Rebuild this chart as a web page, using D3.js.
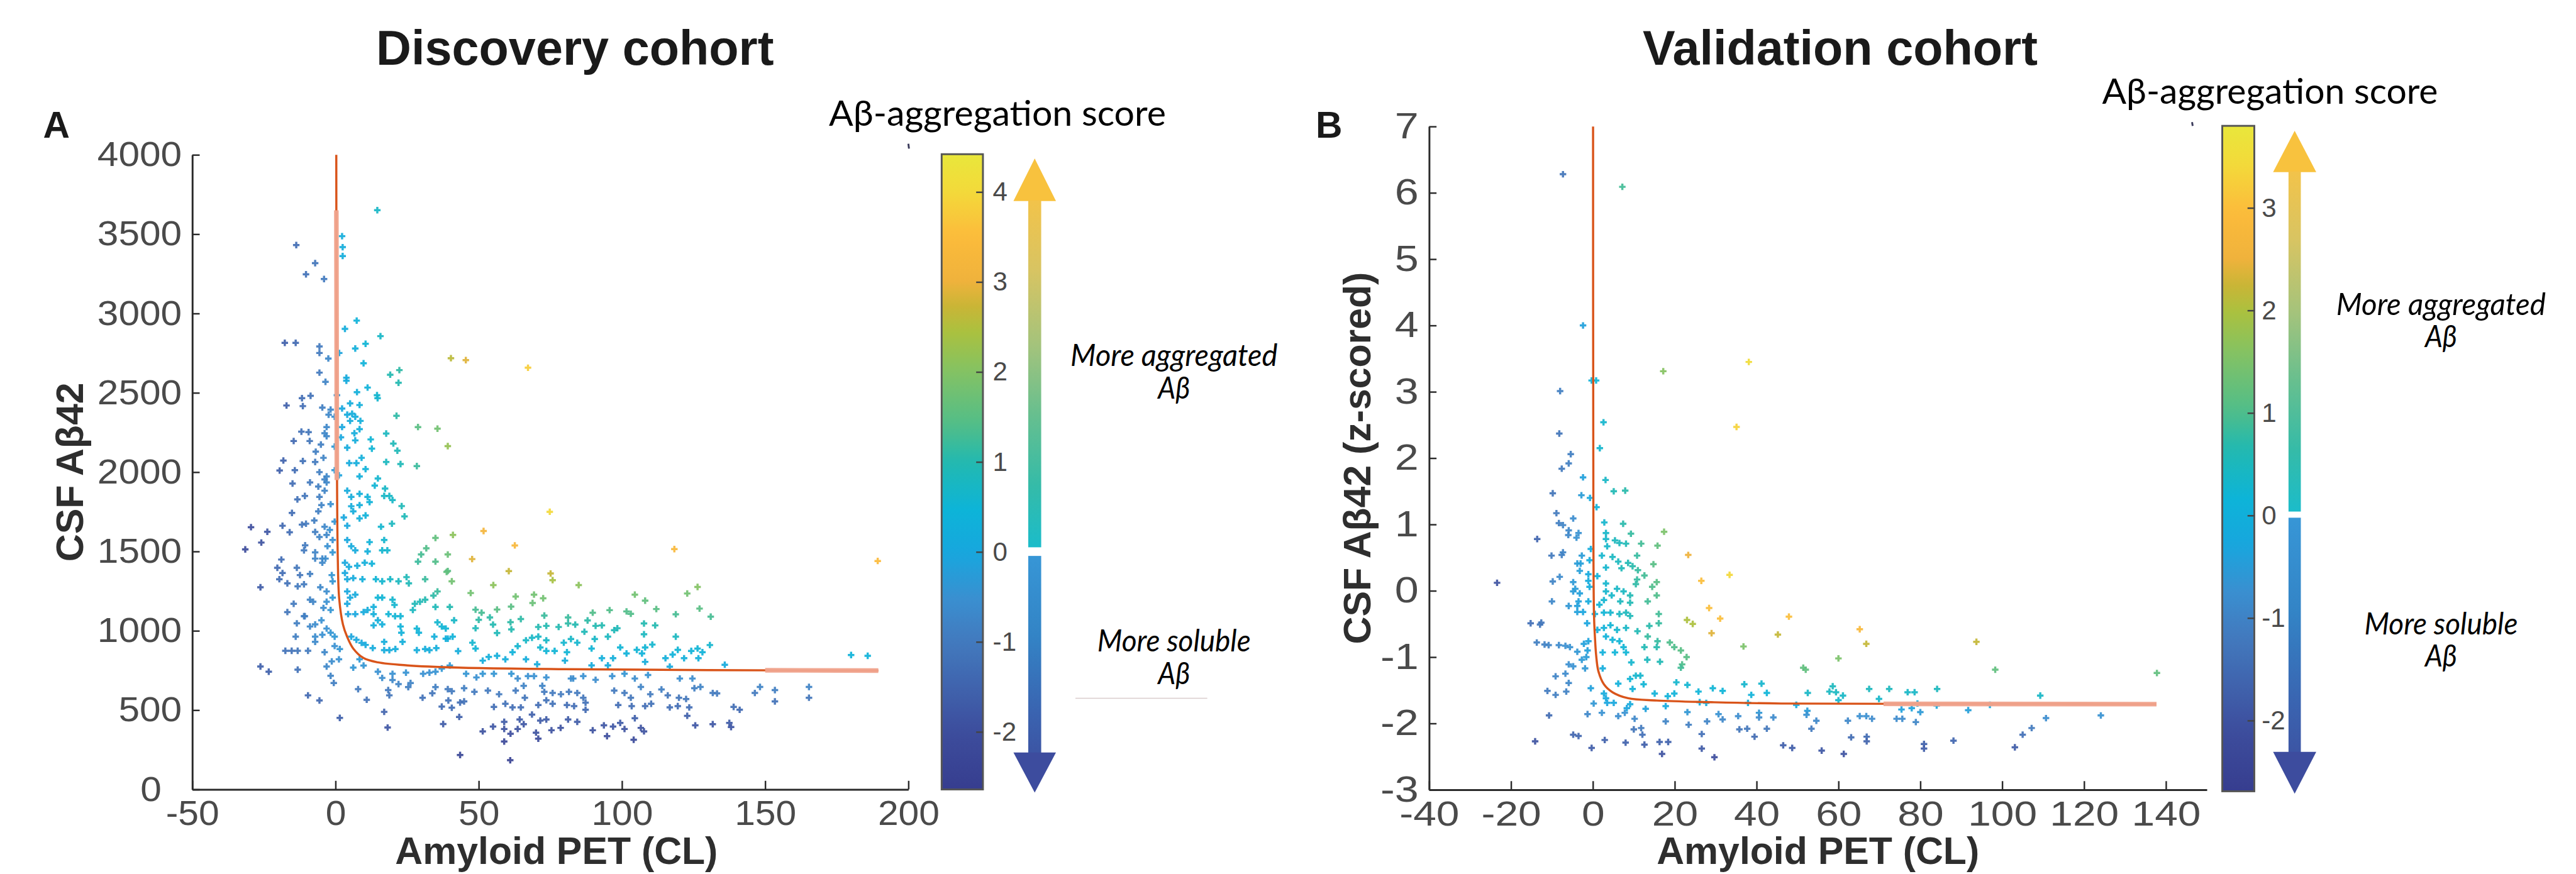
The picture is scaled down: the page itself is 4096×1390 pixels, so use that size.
<!DOCTYPE html>
<meta charset="utf-8">
<style>
body { margin: 0; background: #fff; overflow: hidden; }
.tick text { font-family: "Liberation Sans", Arial, Helvetica, sans-serif; fill: #4a4a4a; }
.axis-title { font-family: "Liberation Sans", Arial, Helvetica, sans-serif; font-weight: bold; fill: #2e2e2e; }
.panel-title { font-family: "Liberation Sans", Arial, Helvetica, sans-serif; font-weight: bold; fill: #1a1a1a; }
.cb-title { font-family: Lato, "Open Sans", sans-serif; fill: #000; }
.cb-note { font-family: Lato, "Open Sans", sans-serif; font-style: italic; fill: #000; }
</style>
<svg width="4096" height="1390" viewBox="0 0 4180 1418"></svg>
<script src="https://d3js.org/d3.v7.min.js"></script>
<script>

// ---- data: [amyloid PET (CL), CSF Abeta42, aggregation score] ----
var discoveryPoints = [
  [14.6,3651,0.7],[-13.7,3431,-1.3],[2.3,3487,0.2],[2.5,3418,0.2],[2.5,3362,0.2],[-7.1,3317,-1.1],[-10.3,3247,-1.2],[-4,3217,-1],
  [7.4,2955,0.4],[3.3,2903,0.2],[15.7,2857,0.7],[-17.7,2815,-1.6],[-13.9,2815,-1.4],[-5.6,2792,-1],[-5.6,2751,-1],[1.3,2751,-0.1],
  [-2.5,2716,-0.7],[6.9,2779,0.3],[10.5,2809,0.5],[9.8,2686,0.4],[40.3,2718,2.6],[45.5,2706,2.9],[67.2,2658,3.8],[19.1,2614,1],
  [22.3,2643,1.1],[22,2563,1],[-5.6,2627,-1],[-3.5,2569,-0.8],[3.8,2595,0.1],[3.8,2576,0.1],[11.2,2533,0.4],[7.5,2504,0.3],
  [14.5,2485,0.6],[14.7,2466,0.6],[0.5,2485,-0.4],[-11.7,2466,-1.3],[-8.7,2481,-1.2],[-17.1,2420,-1.6],[-11.4,2416,-1.3],[-4.6,2407,-0.9],
  [-1.7,2394,-0.7],[-2.4,2362,-0.7],[-0.3,2349,-0.5],[2.3,2401,0],[5.1,2433,0.2],[8.4,2423,0.3],[4.1,2362,0.1],[5.8,2368,0.2],
  [6.9,2349,0.2],[5.1,2323,0.1],[8.7,2323,0.3],[21.3,2355,1.1],[28.8,2284,1.5],[35.6,2274,1.8],[39.2,2164,2.2],[17.7,2243,0.8],
  [2.3,2284,0],[-3.1,2284,-0.7],[-3.8,2245,-0.7],[-3.1,2226,-0.7],[-11.9,2255,-1.2],[-9.4,2252,-1.1],[-14.6,2196,-1.4],[-9,2196,-1.1],
  [-5.1,2174,-0.9],[-0.3,2161,-0.3],[1.9,2219,0],[6.6,2245,0.2],[8.4,2271,0.3],[6.9,2200,0.2],[4.1,2154,0.1],[12.3,2206,0.5],
  [12.7,2148,0.5],[20.2,2180,0.9],[21.6,2135,0.9],[-6.9,2129,-0.9],[-18.2,2073,-1.5],[-11.4,2070,-1.2],[-7.1,2064,-1],[-4.2,2090,-0.8],
  [9.1,2090,0.3],[7.3,2057,0.2],[4.8,2057,0.1],[17.7,2064,0.8],[22.7,2051,0.9],[28.4,2038,1.2],
  [-19.5,2010,-1.6],[-14.2,2012,-1.3],[-5.6,2000,-0.9],[-3.1,1973,-0.7],[-3.1,1935,-0.7],[-0.3,2012,-0.3],[1.2,1980,-0.1],[8.4,1973,0.3],
  [10.5,2019,0.4],[14.8,1960,0.6],[13.7,1915,0.5],[17.3,1896,0.7],[18.8,1850,0.7],[19.9,1824,0.7],[17,1850,0.7],[23.1,1786,0.9],
  [24.1,1721,0.9],[15.9,1656,0.6],[19.7,1675,0.8],[-15,1928,-1.3],[-8.9,1935,-1],[-6,1909,-0.9],[-3.8,1954,-0.8],[-3.8,1883,-0.8],
  [-13.3,1828,-1.2],[-10.7,1850,-1.1],[-5.6,1844,-0.9],[-4.9,1792,-0.8],[-1.7,1798,-0.5],[-6,1753,-0.9],[-15.2,1743,-1.3],[4.1,1883,0.1],
  [5.5,1844,0.2],[8.4,1863,0.3],[11.2,1844,0.4],[11.9,1811,0.4],[5.5,1785,0.2],[8.4,1792,0.3],[10.5,1727,0.4],[8.4,1708,0.3],
  [6.2,1753,0.2],[2.9,1714,0],[4.1,1662,0],[-0.3,1688,-0.4],[-2,1636,-0.5],[-3.8,1656,-0.7],[-7.4,1695,-0.9],[-10.3,1675,-1],
  [-11.7,1669,-1.1],[-18.5,1662,-1.4],[-16,1621,-1.3],[-29.5,1653,-2],[-23.8,1624,-1.8],[-25.9,1556,-1.9],[-31.5,1513,-2.1],[-7.1,1623,-0.9],
  [-5.6,1591,-0.8],[-3.1,1604,-0.7],[-1,1572,-0.5],[-2.8,1533,-0.5],[-10.6,1539,-1],[-11,1507,-1],[-7.1,1494,-0.8],[-4.6,1455,-0.7],
  [-1,1494,-0.4],[4.1,1572,0],[5.5,1533,0.1],[6.9,1507,0.1],[11.9,1559,0.4],[17,1572,0.6],[16.3,1507,0.6],[18.1,1507,0.6],
  [11.2,1500,0.3],[34.9,1585,1.6],[41,1604,2.1],[31.7,1520,1.4],[29.9,1481,1.3],[28.8,1436,1.2],[34.9,1436,1.4],[39.2,1481,1.7],
  [39.2,1377,1.5],[40.6,1312,1.8],[-18.9,1449,-1.3],[-20.3,1397,-1.4],[-18.5,1364,-1.3],[-13.5,1397,-1.1],[-12.4,1351,-1.1],[-8.9,1358,-0.9],
  [-7.1,1455,-0.8],[-4.6,1429,-0.7],[-3.5,1455,-0.6],[-19.6,1325,-1.3],[-16.8,1299,-1.2],[-13.2,1280,-1],[-11,1293,-1],[-26.2,1274,-1.7],
  [-5.3,1274,-0.7],[-3.1,1248,-0.6],[-1,1312,-0.4],[-1.3,1351,-0.4],[3.3,1429,0],[4.7,1403,0.1],[7.6,1410,0.2],[10.2,1429,0.3],
  [12.7,1423,0.4],[3.3,1364,0],[4.1,1325,0.05],[6.2,1332,0.1],[9.4,1325,0.3],[14.1,1325,0.5],[16.3,1312,0.6],[19.1,1325,0.7],
  [22,1312,0.8],[24.8,1338,0.9],[25.6,1299,0.9],[31.3,1325,1.2],[38.8,1371,1.6],[4.1,1248,0],[5.1,1209,0.05],[6.9,1228,0.1],
  [-8.9,1196,-0.8],[-7.8,1183,-0.8],[-14.6,1170,-1],[-16.8,1118,-1.1],[-11,1092,-0.9],[-4.2,1144,-0.6],[-1.7,1131,-0.4],[-3.1,1183,-0.5],
  [-1,1209,-0.3],[4.1,1170,0],[4.4,1105,-0.1],[6.9,1105,0],[9.8,1118,0.1],[11.2,1131,0.2],[13.3,1150,0.3],[13.3,1105,0.3],
  [14.8,1209,0.5],[16.3,1209,0.5],[19.9,1196,0.6],[20.6,1163,0.6],[18.5,1105,0.5],[20.8,1092,0.5],[22.7,1092,0.5],[14.8,1066,0.3],
  [13.3,1034,0.3],[16.3,1040,0.3],[22.7,1027,0.4],[23,988,0.35],[27.7,1170,0.9],[29.5,1183,0.9],[31.3,1196,1],[34.2,1222,1.1],
  [35.6,1248,1.2],[34.9,1150,0.9],[39.9,1150,1],[27,1131,0.8],[28.4,1014,0.5],[29.1,988,0.4],[35.6,1053,0.6],[37.1,1027,0.5],
  [38.5,1014,0.5],[41.4,1066,0.7],[34.5,963,0.3],[39.2,950,0.3],[40.9,963,0.4],[-8.9,1027,-0.7],[-7.1,1040,-0.6],[-4.9,1066,-0.5],
  [-3.1,1014,-0.5],[-1.7,988,-0.4],[-0.3,963,-0.35],[-4.6,975,-0.5],[-7.1,963,-0.6],[-7.1,930,-0.65],[-13.5,1047,-0.9],[-10.7,1092,-0.9],
  [-13.9,963,-0.9],[-17.5,874,-1.2],[-15.3,874,-1.2],[-13.2,874,-1.1],[-9.6,874,-1],[-3.8,865,-0.7],[-0.3,904,-0.5],[1.5,885,-0.4],
  [5.5,963,-0.05],[7.3,943,0],[9.1,924,0.05],[10.5,911,0.1],[13,891,0.15],[17,930,0.25],[17,878,0.15],[18.8,878,0.15],
  [20.9,885,0.2],[23.4,930,0.3],[28.4,878,0.2],[31.3,885,0.2],[32.8,878,0.2],[35.2,891,0.25],[38.5,950,0.3],[42.8,872,0.2],
  [1.2,820,-0.5],[-1.3,807,-0.6],[-3.1,775,-0.7],[-26.2,775,-1.6],[-23.3,742,-1.6],[-13.2,755,-1.2],[6.2,768,-0.4],[8.4,820,-0.3],
  [9.8,781,-0.4],[14.8,742,-0.5],[16.3,703,-0.6],[19.9,729,-0.5],[19.9,690,-0.7],[22,664,-0.8],[24.6,736,-0.45],[25.4,645,-0.9],
  [26.2,671,-0.8],[30.6,729,-0.5],[32.8,736,-0.5],[34.9,742,-0.45],[37.1,762,-0.35],[39.9,781,-0.3],[-1.7,716,-0.8],[-0.6,671,-0.9],
  [7.9,632,-1],[18.4,626,-1],[18.8,593,-1.1],[34.9,645,-0.9],[39.2,632,-1],[40.6,619,-1],[39.4,561,-1.2],[37.1,522,-1.3],
  [40.6,515,-1.3],[43.5,548,-1.25],[-9.6,593,-1.4],[-5.6,561,-1.4],[10.9,565,-1.2],[30.4,578,-1.2],[33.8,606,-1.1],[17,489,-1.5],
  [1.5,451,-1.6],[43.2,457,-1.6],[37.6,412,-1.7],[18.2,390,-1.8],[43.5,217,-2.3],
  [74.8,1750,4],[51.7,1629,3.2],[62.6,1538,3.3],[47.7,1452,2.9],[60.5,1376,2.7],[75.1,1361,2.7],[75.8,1319,2.4],[118.3,1515,3.4],
  [55.1,1288,2.1],[47.2,1238,1.8],[84.9,1288,2.1],[62.9,1216,1.8],[69.3,1228,1.8],[72.5,1205,1.8],[68.8,1175,1.7],[61.3,1152,1.5],
  [56.4,1134,1.5],[48.9,1133,1.3],[51,1114,1.3],[104.5,1228,1.8],[108.1,1190,1.6],[112,1137,1.5],[122.8,1235,1.8],[126.4,1276,2],
  [127.1,1140,1.5],[131,1089,1.3],[118.8,1104,1.3],[95.7,1130,1.4],[101.6,1122,1.4],[103.1,1107,1.4],[89.8,1114,1.4],[72.9,1096,1.2],
  [81.2,1084,1.2],[50,1069,1.1],[53.9,1084,1.1],[55,1039,1],[48.9,1016,0.9],[56.4,986,0.9],[61.1,1054,1.1],[61.4,1009,1],
  [64.7,1074,1.1],[70.8,1024,1],[73.6,1031,1],[77.9,1024,1],[81.2,1046,1.1],[83.7,1039,1],[88,1065,1.1],[90.8,1031,1],
  [93,1034,1],[86.9,994,0.9],[95.1,963,0.8],[97.3,1004,0.9],[98.4,1016,0.9],[107.7,1046,1],[111.6,1034,1],[107.7,978,0.8],
  [118.8,963,0.8],[130.7,910,0.6],[47.8,925,0.6],[48.9,888,0.5],[63.6,903,0.6],[66.5,940,0.7],[68.6,956,0.7],[70.8,963,0.7],
  [71.5,895,0.6],[73.6,940,0.7],[73.6,873,0.5],[76.5,873,0.5],[79.7,925,0.6],[82.2,948,0.7],[84.4,925,0.6],[80.8,865,0.5],
  [89.4,888,0.5],[90.5,948,0.7],[93,827,0.3],[96.9,827,0.3],[99.4,895,0.5],[101.6,857,0.4],[105.2,880,0.5],[107,857,0.4],
  [108.1,895,0.5],[110.6,913,0.6],[108.1,804,0.2],[115.2,827,0.3],[117.7,850,0.4],[119.5,880,0.5],[121.7,827,0.3],[124.2,873,0.4],
  [126.4,888,0.5],[128.1,865,0.4],[126.7,827,0.3],[51.4,812,0.2],[53.5,835,0.3],[56.4,842,0.3],[59.3,820,0.2],[61.8,865,0.4],
  [66.5,820,0.2],[70.4,789,0.1],[80.1,812,0.2],[89.4,782,0.1],[95.1,782,0.1],[116.7,774,0.05],
  [45.6,729,-0.4],[49.2,706,-0.5],[51.4,729,-0.4],[55.3,729,-0.4],[61.4,729,-0.4],[63.6,699,-0.6],[67.2,714,-0.5],[69.3,714,-0.5],
  [73.6,706,-0.5],[83,699,-0.6],[86.5,714,-0.5],[90.8,691,-0.6],[96.6,714,-0.5],[100.9,729,-0.4],[104.5,699,-0.6],[109.1,721,-0.45],
  [120.2,699,-0.6],[124.6,699,-0.6],[44.9,638,-0.9],[48.5,615,-1],[53.2,623,-1],[44.9,555,-1.2],[57.1,600,-1],[59.3,540,-1.2],
  [61.8,517,-1.3],[64.7,517,-1.3],[62.9,623,-1],[65.7,653,-0.8],[66.1,578,-1.1],[55.3,520,-1.3],[72.2,653,-0.8],[72.9,615,-1],
  [75.8,608,-1],[78.7,600,-1],[81.5,615,-1],[84.4,608,-1],[86.5,578,-1.1],[87.3,547,-1.2],[87.3,502,-1.4],[83.3,525,-1.3],
  [80.8,532,-1.3],[75.8,540,-1.2],[70.8,532,-1.3],[73.6,562,-1.2],[82.2,699,-0.6],[97.3,623,-1],[98.7,532,-1.3],[100.9,608,-1],
  [103.1,578,-1.1],[103.4,525,-1.3],[106.6,646,-0.8],[109.9,600,-1],[108.1,525,-1.3],[110.2,540,-1.2],[113.8,630,-0.9],[116,593,-1.1],
  [116.7,517,-1.3],[119.9,578,-1.1],[119.5,525,-1.3],[122.4,570,-1.1],[123.5,517,-1.3],[125.3,638,-0.9],[127.4,646,-0.8],[122.8,464,-1.6],
  [131.7,608,-1],[125.6,404,-1.8],[131.7,411,-1.8],[55,396,-1.8],[51.4,366,-1.9],[58.9,426,-1.7],[58.9,381,-1.9],[61.1,351,-2],
  [58.9,302,-2.2],[63.6,381,-1.9],[65.7,411,-1.8],[64.3,441,-1.7],[68.6,472,-1.6],[70,358,-1.9],[70.8,320,-2.1],[71.5,434,-1.7],
  [73.6,441,-1.7],[75.4,373,-1.9],[78.6,388,-1.9],[81.2,441,-1.7],[84.4,426,-1.7],[89.8,373,-1.9],[93.7,404,-1.8],[94.8,336,-2],
  [96.9,396,-1.8],[99.4,419,-1.7],[100.9,381,-1.9],[104.5,449,-1.6],[104.1,313,-2.1],[106.6,388,-1.9],[107.7,366,-1.9],[61,184,-2.4],
  [189.3,1440,3.5],[180,847,0.4],[185.8,842,0.4],[135.9,786,0.1],[133.2,605,-1],[139,520,-1.3],[141.1,502,-1.4],[137.5,419,-1.7],
  [138.1,393,-1.8],[146.4,608,-1],[148.2,646,-0.8],[153.4,626,-0.9],[153.4,555,-1.2],[165.3,646,-0.8],[165.3,578,-1.1]
];

var validationPoints = [
  [-7.3,6.28,-1.3],[7.2,6.09,0.9],[-2.4,4.0,-0.4],[17.2,3.31,1.6],[38.1,3.45,3.5],[-0.3,3.17,0.1],[0.8,3.17,0.2],[-8,3.01,-1.1],
  [2.6,2.54,0.3],[35.1,2.47,3.3],
  [-8.2,2.37,-1.3],[1.7,2.15,0.3],[-5.4,2.06,-1.1],[-5.9,1.92,-1.1],[-7.6,1.84,-1.2],[-2.4,1.71,-0.4],[3.1,1.67,0.4],[5.1,1.5,0.6],
  [7.9,1.51,0.7],[-9.8,1.47,-1.3],[-2.8,1.44,-0.5],[-0.7,1.4,-0.2],[0.9,1.26,0.1],[-8.9,1.17,-1.2],[-4.8,1.09,-0.8],[-8.3,1.02,-1.1],
  [-7.3,0.99,-1],[-5.9,0.91,-0.9],[-3.5,0.87,-0.7],[-6,0.84,-0.9],[-4,0.8,-0.7],[-13.6,0.78,-1.6],[2.8,1.03,0.3],[7.4,1.01,0.7],
  [9.3,0.86,0.8],[17.4,0.89,1.5],[3.2,0.87,0.35],[3.2,0.78,0.35],[3.5,0.67,0.35],[5.4,0.76,0.5],[6.5,0.72,0.5],[8.1,0.71,0.6],
  [11.8,0.71,0.9],[15.8,0.68,1.2],[-0.5,0.63,-0.1],[-10.1,0.53,-1.2],[-7.6,0.54,-1.1],[-7.3,0.58,-1],[-2.7,0.53,-0.5],[2.2,0.53,0.3],
  [4.8,0.51,0.45],[10.8,0.53,0.8],[23.3,0.54,2.5],[-3.8,0.41,-0.5],[-3,0.41,-0.45],[-0.8,0.46,-0.1],[3.2,0.35,0.3],[6.2,0.44,0.5],
  [8.6,0.42,0.6],[9.7,0.37,0.7],[14.8,0.4,1.1],[7,0.34,0.55],[11,0.31,0.8],[33.4,0.24,3.4],[26.5,0.15,3],[-3.2,0.3,-0.45],
  [-1.1,0.25,-0.2],[1.1,0.22,0.1],[-9.8,0.14,-1],[-8.1,0.21,-0.85],[-23.4,0.12,-2],[-4.8,0.13,-0.55],[-4.3,0.03,-0.5],[-1.1,0.15,-0.15],
  [-0.8,0.06,-0.1],[3.2,0.11,0.3],[5.9,0.03,0.4],[7.5,-0.01,0.45],[10.8,0.17,0.8],[12.6,0.23,0.9],[14.5,0.06,1],[15.6,0.13,1.1],
  [15.6,-0.07,1],[13.4,-0.16,0.9],[10.5,0.1,0.75],[-4.8,-0.01,-0.5],[-3.2,-0.04,-0.4],[3.2,-0.01,0.3],[4.6,-0.07,0.35],[9.1,-0.07,0.6],
  [6.7,-0.16,0.5],[9.1,-0.18,0.6],[2.7,-0.14,0.25],[1.6,-0.21,0.2],[-10,-0.16,-0.9],[-5.9,-0.23,-0.6],[-3.8,-0.23,-0.4],[-3.5,-0.16,-0.4],
  [-1.1,-0.16,-0.15],[-3.8,-0.32,-0.4],[-2.4,-0.32,-0.3],[0.5,-0.35,0],[2.7,-0.33,0.2],[4.3,-0.33,0.3],[6.5,-0.35,0.45],[8.1,-0.33,0.5],
  [9.1,-0.38,0.55],[16.1,-0.35,0.9],[16.1,-0.49,0.8],[13.8,-0.53,0.7],[10.9,-0.61,0.6],[23,-0.44,2],[24.4,-0.5,2],[28.4,-0.26,3],
  [31.1,-0.42,3],[29,-0.64,2.4],[45.2,-0.66,2.2],[36.8,-0.84,1.5],[-15.2,-0.49,-1.4],[-12.9,-0.51,-1.25],[-12.6,-0.48,-1.25],[-1.4,-0.49,-0.3],
  [1.1,-0.59,0],[2.7,-0.56,0.1],[4.3,-0.52,0.2],[5.9,-0.59,0.3],[8.1,-0.56,0.4],[3.2,-0.69,0.1],[4.8,-0.74,0.15],[6.5,-0.76,0.2],
  [7.5,-0.85,0.2],[2.4,-0.93,0.05],[5.4,-0.93,0.15],[8.1,-0.93,0.2],[13.4,-0.69,0.8],[15.8,-0.76,0.8],[18.8,-0.78,1],[12.6,-0.85,0.6],
  [15.6,-0.85,0.7],[19.9,-0.85,1],[21.5,-0.9,1.1],[22.9,-1,1.1],[21.8,-1.11,1],[21.5,-1.16,0.9],[13.3,-1.04,0.5],[16.4,-1.07,0.6],
  [9.4,-1.08,0.3],[-13.7,-0.78,-1.1],[-11.8,-0.81,-1.05],[-10.8,-0.82,-1],[-8.3,-0.82,-0.85],[-6.7,-0.83,-0.75],[-5.6,-0.85,-0.7],[-3.8,-0.92,-0.6],
  [-2.2,-0.8,-0.4],[-1.1,-0.76,-0.35],[-1.3,-0.9,-0.4],[-1.6,-1,-0.5],[-2.7,-1.04,-0.55],[-5.9,-1.11,-0.75],[-4.8,-1.14,-0.7],[-1.9,-1.17,-0.6],
  [-9.1,-1.29,-1],[-6.7,-1.25,-0.85],[-5.9,-1.39,-0.9],[-11.1,-1.51,-1.15],[-9.1,-1.57,-1.1],[-6.5,-1.52,-1.05],[2.4,-1.17,-0.1],[9.1,-1.33,0.2],
  [10.5,-1.28,0.3],[11.6,-1.28,0.3],[9.7,-1.48,0.1],[6.2,-1.4,0.05],[12.4,-1.41,0.2],[15.1,-1.55,0.1],[18.3,-1.59,0.1],[20.4,-1.38,0.3],
  [23.1,-1.42,0.25],[19.9,-1.55,0.1],[25.8,-1.52,0.15],[29.3,-1.47,0.2],[31.7,-1.51,0.15],[37,-1.41,0.3],[41.2,-1.4,0.3],[42.5,-1.54,0.15],
  [38.7,-1.57,0.1],[-0.5,-1.47,-0.4],[2.7,-1.55,-0.15],[3.2,-1.62,-0.2],[3.5,-1.69,-0.3],[5.1,-1.69,-0.25],[9.1,-1.71,-0.15],[8.3,-1.77,-0.3],
  [0.2,-1.7,-0.6],[26.1,-1.68,-0.1],[27.7,-1.69,-0.1],[17.8,-1.74,-0.2],[37.9,-1.69,-0.1],[12.9,-1.78,-0.4],
  [-10.7,-1.88,-1.5],[-1.3,-1.86,-0.9],[2.2,-1.84,-0.7],[6.2,-1.89,-0.8],[7.8,-1.84,-0.7],[10.2,-1.93,-0.9],[23.1,-1.83,-0.6],[30.7,-1.86,-0.7],
  [31.7,-1.94,-0.9],[35.5,-1.89,-0.8],[40.6,-1.84,-0.6],[40.6,-1.91,-0.85],[44.1,-1.91,-0.85],[17.8,-1.97,-1],[23.4,-2.02,-1.1],[27.9,-1.97,-1],
  [10,-2.09,-1.3],[11.8,-2.07,-1.2],[12.1,-2.17,-1.4],[26.6,-2.16,-1.4],[35.8,-2.09,-1.3],[37.7,-2.08,-1.25],[39.5,-2.2,-1.5],[42.5,-2.08,-1.25],
  [-14.1,-2.27,-2],[-4.8,-2.17,-1.6],[-3.5,-2.19,-1.6],[-0.3,-2.37,-1.8],[2.9,-2.25,-1.7],[8,-2.29,-1.7],[12.6,-2.32,-1.75],[16.3,-2.28,-1.7],
  [18.4,-2.28,-1.7],[16.9,-2.46,-2],[26.6,-2.38,-1.85],[29.7,-2.51,-2.1],
  [47.9,-0.39,3],[65.2,-0.58,2.8],[66.8,-0.8,2.2],[93.7,-0.77,2.2],[60,-1.02,1.5],[51.4,-1.16,1.2],[52,-1.19,1.2],[98.3,-1.19,1.2],
  [137.8,-1.24,1.2],[52.5,-1.54,0.4],[57.8,-1.52,0.45],[58.6,-1.44,0.5],[59.4,-1.53,0.45],[61.1,-1.58,0.4],[60,-1.65,0.3],[67.5,-1.48,0.5],
  [69.9,-1.63,0.35],[72.4,-1.48,0.5],[76.9,-1.53,0.4],[78.6,-1.53,0.4],[84.1,-1.48,0.5],[109.3,-1.58,0.4],[49.7,-1.72,-0.2],[52.4,-1.81,-0.5],
  [52.2,-1.87,-0.7],[54.6,-1.96,-0.9],[53.4,-2.08,-1.2],[62.3,-1.96,-0.9],[65.2,-1.89,-0.75],[66.8,-1.89,-0.75],[68.2,-1.93,-0.85],[75.4,-1.79,-0.4],
  [74.2,-1.93,-0.85],[75.6,-1.93,-0.85],[77.9,-1.77,-0.35],[79.3,-1.7,-0.2],[80,-1.83,-0.55],[78.9,-1.98,-0.95],[84,-1.73,-0.25],[91.7,-1.8,-0.45],
  [97,-1.72,-0.25],[110.7,-1.92,-0.8],[124.1,-1.88,-0.7],[107.2,-2.07,-1.2],[105,-2.17,-1.4],[103.1,-2.36,-1.8],[63.1,-2.21,-1.5],[66.9,-2.2,-1.5],
  [66.9,-2.27,-1.65],[46.5,-2.33,-1.75],[48.7,-2.37,-1.8],[55.9,-2.41,-1.9],[61.3,-2.46,-2],[80.9,-2.31,-1.7],[80.9,-2.38,-1.8],[88.1,-2.26,-1.6]
];

// fitted curves
var discoveryFit = [[0.28,4000],[0.3,3650],[0.4,2800],[0.5,2100],[0.8,1455],[1.3,1200],[2.6,1040],[4,965],[6.2,888],
  [9.8,828],[14.8,801],[25,782],[43,768],[80,758],[130,752],[189.5,749]];
var discoveryFitFaded = [[[0.3,3650],[0.4,2800],[0.47,1950]], [[150,751],[189.5,749]]];
var validationFit = [[0.05,7],[0.1,2.4],[0.27,-0.35],[0.5,-0.69],[0.8,-0.97],[1.34,-1.21],[2.7,-1.41],[4.8,-1.53],[8.6,-1.62],
  [15.6,-1.655],[29,-1.68],[46,-1.7],[90,-1.705],[137.7,-1.71]];
var validationFitFaded = [[[71,-1.705],[137.7,-1.71]]];

// axis ticks
var discoveryXTicks = [-50, 0, 50, 100, 150, 200];
var discoveryYTicks = [0, 500, 1000, 1500, 2000, 2500, 3000, 3500, 4000];
var discoveryScoreTicks = [-2, -1, 0, 1, 2, 3, 4];
var validationXTicks = [-40, -20, 0, 20, 40, 60, 80, 100, 120, 140];
var validationYTicks = [-3, -2, -1, 0, 1, 2, 3, 4, 5, 6, 7];
var validationScoreTicks = [-2, -1, 0, 1, 2, 3];

// colour map along the colour bar (0 = bottom, 1 = top)
var cmapStops = [0, 0.09, 0.23, 0.30, 0.37, 0.44, 0.515, 0.57, 0.65, 0.72, 0.76, 0.80, 0.87, 0.94, 1];
var cmapColors = ["#363d8f", "#3d4d9d", "#4279bd", "#3a8fd0", "#18a6de", "#0db4d8", "#22b9b0", "#4fbd8a",
  "#7fc268", "#aac13f", "#c9b536", "#efb23c", "#fcbb3b", "#f3d93a", "#e9e73b"];

var cmap = d3.scaleLinear().domain(cmapStops).range(cmapColors).clamp(true);
var plain = function(d) { return String(d); };

var svg = d3.select("svg");
var defs = svg.append("defs");

// colour bar gradient (shared)
var cbGrad = defs.append("linearGradient").attr("id", "cbgrad")
    .attr("x1", 0).attr("y1", 1).attr("x2", 0).attr("y2", 0);
d3.range(0, 1.0001, 0.02).forEach(function(t) {
  cbGrad.append("stop").attr("offset", t).attr("stop-color", cmap(t));
});
var upGrad = defs.append("linearGradient").attr("id", "upgrad")
    .attr("x1", 0).attr("y1", 0).attr("x2", 0).attr("y2", 1);
[[0, "#f2c34a"], [0.2, "#d8c462"], [0.42, "#a3c37c"], [0.62, "#66bf8f"], [0.82, "#35bba8"], [1, "#1bbcca"]].forEach(function(s) {
  upGrad.append("stop").attr("offset", s[0]).attr("stop-color", s[1]);
});
var downGrad = defs.append("linearGradient").attr("id", "downgrad")
    .attr("x1", 0).attr("y1", 0).attr("x2", 0).attr("y2", 1);
[[0, "#3796d6"], [0.4, "#3384c6"], [0.8, "#3a63b0"], [1, "#3c55a4"]].forEach(function(s) {
  downGrad.append("stop").attr("offset", s[0]).attr("stop-color", s[1]);
});

var panels = [
  {
    letter: "A", title: "Discovery cohort", titleX: 933, letterX: 70,
    points: discoveryPoints, fit: discoveryFit, faded: discoveryFitFaded,
    xDomain: [-50, 200], xRange: [312, 1474], yDomain: [0, 4000], yRange: [1281, 251],
    xTicks: discoveryXTicks, yTicks: discoveryYTicks, yLabel: "CSF A\u03b242", yLabelX: 135, xLabelX: 903,
    xFont: 56, yFont: 56, xStretch: 1.07, yStretch: 1.1, zeroShift: -33,
    cb: { x: 1528, w: 67, top: 250, bottom: 1281, domain: [-2.64, 4.42], ticks: discoveryScoreTicks, pad: 16 },
    arrow: { cx: 1679, headTop: 257, headBase: 326, gapTop: 888, gapBottom: 902, lowHead: 1221, bottom: 1286, head: 34.5, shaft: 10.5 },
    noteX: 1905, notes: [594, 647, 1057, 1110], noteW: [336, 249],
    cbTitleX: 1345, cbTitleY: 204, cbTitleW: 547, mark: [1474, 233, 1475, 241]
  },
  {
    letter: "B", title: "Validation cohort", titleX: 2986, letterX: 2135,
    points: validationPoints, fit: validationFit, faded: validationFitFaded,
    xDomain: [-40, 150], xRange: [2319, 3581], yDomain: [-3, 7], yRange: [1281.5, 205],
    xTicks: validationXTicks, yTicks: validationYTicks, yLabel: "CSF A\u03b242 (z-scored)", yLabelX: 2224, xLabelX: 2950,
    xFont: 56, yFont: 58, xStretch: 1.2, yStretch: 1.2, zeroShift: 0,
    cb: { x: 3606, w: 52, top: 204, bottom: 1284, domain: [-2.69, 3.80], ticks: validationScoreTicks, pad: 12 },
    arrow: { cx: 3723.5, headTop: 212, headBase: 279, gapTop: 830, gapBottom: 840, lowHead: 1220, bottom: 1288, head: 35, shaft: 10 },
    noteX: 3961, notes: [511, 563, 1029, 1081], noteW: [340, 249],
    cbTitleX: 3411, cbTitleY: 168, cbTitleW: 545, mark: [3557, 198, 3558, 204]
  }
];

function stretch(sel, k) {
  sel.each(function() {
    var w = this.getComputedTextLength();
    d3.select(this).attr("textLength", w * k).attr("lengthAdjust", "spacingAndGlyphs");
  });
}

panels.forEach(function(p) {
  var g = svg.append("g");
  var x = d3.scaleLinear().domain(p.xDomain).range(p.xRange);
  var y = d3.scaleLinear().domain(p.yDomain).range(p.yRange);
  var score = d3.scaleLinear().domain(p.cb.domain).range([0, 1]);

  // scatter
  g.append("g").selectAll("path")
    .data(p.points)
    .join("path")
      .attr("d", d3.symbol(d3.symbolCross, 62))
      .attr("transform", function(d) { return "translate(" + x(d[0]) + "," + y(d[1]) + ")"; })
      .attr("fill", function(d) { return cmap(score(d[2])); })
      .attr("opacity", 0.92);

  // fitted curve
  var line = d3.line().x(function(d) { return x(d[0]); }).y(function(d) { return y(d[1]); })
      .curve(d3.curveCatmullRom.alpha(0.5));
  g.append("path").datum(p.fit).attr("d", line)
      .attr("fill", "none").attr("stroke", "#d9541a").attr("stroke-width", 3.5);
  p.faded.forEach(function(seg) {
    g.append("path").datum(seg).attr("d", line)
        .attr("fill", "none").attr("stroke", "#f0a48e").attr("stroke-width", 7.5).attr("opacity", 0.95);
  });

  // axes
  var xAxis = g.append("g").attr("transform", "translate(0," + p.yRange[0] + ")")
      .call(d3.axisBottom(x).tickValues(p.xTicks).tickFormat(plain).tickSizeInner(-14).tickSizeOuter(0).tickPadding(18));
  var yAxis = g.append("g").attr("transform", "translate(" + p.xRange[0] + ",0)")
      .call(d3.axisLeft(y).tickValues(p.yTicks).tickFormat(plain).tickSizeInner(-12).tickSizeOuter(0).tickPadding(17));
  [xAxis, yAxis].forEach(function(a) {
    a.select(".domain").attr("stroke", "#2a2a2a").attr("stroke-width", 3);
    a.selectAll(".tick line").attr("stroke", "#2a2a2a").attr("stroke-width", 2.5);
    a.selectAll(".tick text").attr("fill", "#4a4a4a");
  });
  xAxis.selectAll(".tick text").attr("font-size", p.xFont);
  yAxis.selectAll(".tick text").attr("font-size", p.yFont);
  stretch(xAxis.selectAll(".tick text"), p.xStretch);
  stretch(yAxis.selectAll(".tick text"), p.yStretch);
  yAxis.selectAll(".tick text").filter(function(d) { return d === 0; }).attr("dx", p.zeroShift);

  // axis titles
  g.append("text").attr("class", "axis-title")
      .attr("x", p.xLabelX).attr("y", 1402).attr("text-anchor", "middle").attr("font-size", 62)
      .text("Amyloid PET (CL)");
  g.append("text").attr("class", "axis-title")
      .attr("transform", "translate(" + p.yLabelX + "," + ((p.yRange[0] + p.yRange[1]) / 2) + ") rotate(-90)")
      .attr("text-anchor", "middle").attr("font-size", 62)
      .text(p.yLabel);

  // panel title and letter
  g.append("text").attr("class", "panel-title")
      .attr("x", p.titleX).attr("y", 105).attr("text-anchor", "middle").attr("font-size", 79)
      .text(p.title);
  g.append("text").attr("class", "panel-title")
      .attr("x", p.letterX).attr("y", 223).attr("font-size", 60)
      .text(p.letter);

  // colour bar
  var cb = p.cb;
  var cy = d3.scaleLinear().domain(cb.domain).range([cb.bottom, cb.top]);
  g.append("rect").attr("x", cb.x).attr("y", cb.top).attr("width", cb.w).attr("height", cb.bottom - cb.top)
      .attr("fill", "url(#cbgrad)").attr("stroke", "#555").attr("stroke-width", 3);
  var cbAxis = g.append("g").attr("transform", "translate(" + (cb.x + cb.w) + ",0)")
      .call(d3.axisRight(cy).tickValues(cb.ticks).tickFormat(plain).tickSizeInner(-11).tickSizeOuter(0).tickPadding(cb.pad));
  cbAxis.select(".domain").remove();
  cbAxis.selectAll(".tick line").attr("stroke", "#444").attr("stroke-width", 2.5);
  cbAxis.selectAll(".tick text").attr("font-size", 43).attr("fill", "#505050");

  g.append("text").attr("class", "cb-title")
      .attr("x", p.cbTitleX).attr("y", p.cbTitleY).attr("font-size", 58)
      .attr("textLength", p.cbTitleW).attr("lengthAdjust", "spacingAndGlyphs")
      .text("A\u03b2-aggregation score");
  g.append("line").attr("x1", p.mark[0]).attr("y1", p.mark[1]).attr("x2", p.mark[2]).attr("y2", p.mark[3])
      .attr("stroke", "#3a3a5a").attr("stroke-width", 3);

  // double arrow
  var a = p.arrow;
  g.append("path")
      .attr("d", "M" + a.cx + "," + a.headTop + "L" + (a.cx + a.head) + "," + a.headBase + "L" + (a.cx - a.head) + "," + a.headBase + "Z")
      .attr("fill", "#f8c23e");
  g.append("rect").attr("x", a.cx - a.shaft).attr("y", a.headBase - 1).attr("width", 2 * a.shaft)
      .attr("height", a.gapTop - a.headBase + 1).attr("fill", "url(#upgrad)");
  g.append("rect").attr("x", a.cx - a.shaft).attr("y", a.gapBottom).attr("width", 2 * a.shaft)
      .attr("height", a.lowHead - a.gapBottom + 1).attr("fill", "url(#downgrad)");
  g.append("path")
      .attr("d", "M" + a.cx + "," + a.bottom + "L" + (a.cx + a.head) + "," + a.lowHead + "L" + (a.cx - a.head) + "," + a.lowHead + "Z")
      .attr("fill", "#3d4c9e");

  // notes beside the arrow
  var notes = [["More aggregated", p.notes[0], p.noteW[0]], ["A\u03b2", p.notes[1], 52],
               ["More soluble", p.notes[2], p.noteW[1]], ["A\u03b2", p.notes[3], 52]];
  notes.forEach(function(n) {
    g.append("text").attr("class", "cb-note")
        .attr("x", p.noteX).attr("y", n[1]).attr("text-anchor", "middle").attr("font-size", 50)
        .attr("textLength", n[2]).attr("lengthAdjust", "spacingAndGlyphs")
        .text(n[0]);
  });
});

// faint rule under the lower note of panel A
svg.append("line").attr("x1", 1745).attr("y1", 1133).attr("x2", 1959).attr("y2", 1133)
    .attr("stroke", "#d9cccc").attr("stroke-width", 1.5);

</script>
